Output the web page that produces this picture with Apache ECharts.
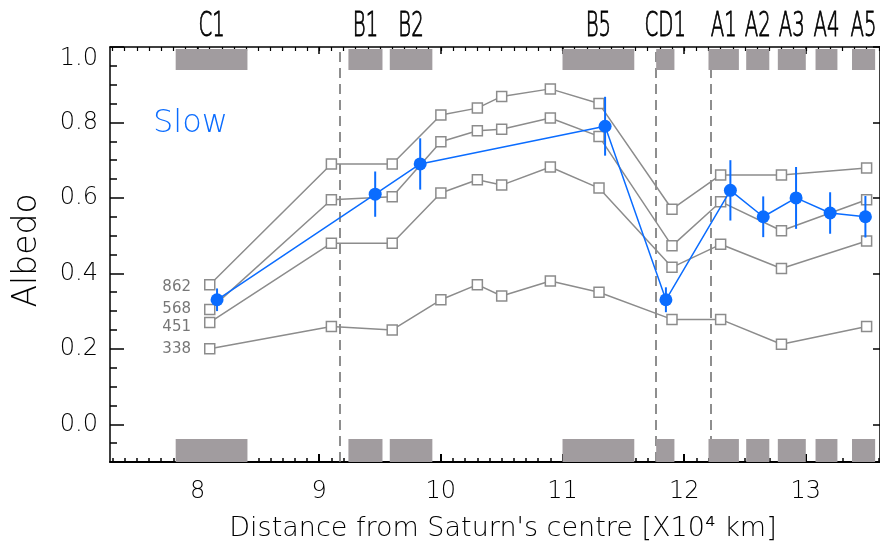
<!DOCTYPE html>
<html>
<head>
<meta charset="utf-8">
<style>
  html, body { margin: 0; padding: 0; background: #fff; }
  #chart { width: 880px; height: 549px; }
</style>
<script src="https://cdn.jsdelivr.net/npm/echarts@6/dist/echarts.min.js"></script>
</head>
<body>
<div id="chart"></div>
<script>
// Ring regions sampled (radial extent in 10^4 km)
const ringNames = ['C1', 'B1', 'B2', 'B5', 'CD1', 'A1', 'A2', 'A3', 'A4', 'A5'];
const ringStart = [7.82, 9.24, 9.58, 11.00, 11.77, 12.20, 12.51, 12.77, 13.08, 13.38];
const ringEnd   = [8.41, 9.52, 9.93, 11.59, 11.92, 12.45, 12.70, 13.00, 13.26, 13.57];

// Ring boundaries (C/B, B/Cassini Division, Cassini Division/A)
const boundaries = [9.17, 11.77, 12.22];

// Filter albedos (wavelength in nm)
const filterDistance = [8.1, 9.1, 9.6, 10.0, 10.3, 10.5, 10.9, 11.3, 11.9, 12.3, 12.8, 13.5];
const albedo862 = [0.370, 0.690, 0.690, 0.820, 0.838, 0.869, 0.889, 0.850, 0.570, 0.661, 0.661, 0.679];
const albedo568 = [0.304, 0.595, 0.603, 0.749, 0.778, 0.782, 0.812, 0.763, 0.473, 0.590, 0.513, 0.595];
const albedo451 = [0.270, 0.480, 0.480, 0.613, 0.648, 0.634, 0.682, 0.626, 0.416, 0.477, 0.413, 0.486];
const albedo338 = [0.200, 0.259, 0.250, 0.330, 0.370, 0.340, 0.380, 0.350, 0.278, 0.278, 0.212, 0.259];
const filterNames = ['862', '568', '451', '338'];

// Slow-mode albedo with uncertainties
const slowDistance = [8.16, 9.46, 9.83, 11.35, 11.85, 12.38, 12.65, 12.92, 13.20, 13.49];
const slowAlbedo   = [0.33, 0.61, 0.69, 0.79, 0.33, 0.62, 0.55, 0.60, 0.56, 0.55];
const slowError    = [0.030, 0.060, 0.068, 0.078, 0.033, 0.080, 0.054, 0.082, 0.055, 0.055];

// Axis ticks and labels
const xTickLabels = [8, 9, 10, 11, 12, 13];
const yTickLabels = [0.0, 0.2, 0.4, 0.6, 0.8, 1.0];
const X_MIN = 7.28, X_MAX = 13.61, Y_MIN = -0.1, Y_MAX = 1.0;

const xMinorTicks = [];
for (let k = 73; k <= 136; k++) xMinorTicks.push(k / 10);
const yMinorTicks = [];
for (let k = -1; k <= 20; k++) yMinorTicks.push(k / 20);

const BLUE = '#0a6cff';
const GREY = '#8c8c8c';
const FONT = 'DejaVu Sans';
const LIGHT = 200;

const labelShift = [2, 0, 5, 0];

function filterSeries(values, idx) {
  const data = filterDistance.map((x, i) => {
    const item = { value: [x, values[i]] };
    if (i === 0) {
      item.label = {
        show: true,
        formatter: filterNames[idx],
        position: 'left',
        distance: 13,
        offset: [0, labelShift[idx]],
        color: '#777',
        fontSize: 15,
        fontFamily: FONT
      };
    }
    return item;
  });
  const s = {
    type: 'line',
    name: filterNames[idx],
    data: data,
    symbol: 'rect',
    symbolSize: 10,
    showAllSymbol: true,
    lineStyle: { color: GREY, width: 1.5 },
    itemStyle: { color: '#fff', borderColor: GREY, borderWidth: 1.5 },
    z: 3,
    animation: false
  };
  if (idx === 0) {
    s.markLine = {
      silent: true,
      symbol: 'none',
      label: { show: false },
      lineStyle: { color: '#6a6a6a', type: [10, 6], width: 1.5 },
      data: boundaries.map(b => ({ xAxis: b })),
      z: 1
    };
  }
  return s;
}

const chart = echarts.init(document.getElementById('chart'), null, { renderer: 'canvas' });

const option = {
  animation: false,
  backgroundColor: '#fff',
  title: {
    text: 'Slow',
    left: 148,
    top: 103,
    textStyle: { color: BLUE, fontSize: 32, fontWeight: LIGHT, fontFamily: FONT }
  },
  grid: { left: 110, right: 0, top: 47, bottom: 87, containLabel: false },
  xAxis: [
    {
      type: 'value', position: 'bottom', min: X_MIN, max: X_MAX,
      name: "Distance from Saturn's centre [X10\u2074 km]",
      nameLocation: 'middle', nameGap: 53,
      nameTextStyle: { fontSize: 27, color: '#000', fontFamily: FONT, fontWeight: LIGHT, padding: [0, 0, 0, 16] },
      axisLine: { show: true, onZero: false, lineStyle: { color: '#000', width: 2 } },
      axisTick: { show: true, inside: true, length: 8, customValues: xTickLabels, lineStyle: { color: '#000', width: 2 } },
      axisLabel: { show: true, customValues: xTickLabels, fontSize: 24, color: '#000', fontFamily: FONT, fontWeight: LIGHT, margin: 18 },
      splitLine: { show: false }
    },
    {
      type: 'value', position: 'bottom', min: X_MIN, max: X_MAX,
      axisLine: { show: false, onZero: false },
      axisTick: { show: true, inside: true, length: 4, customValues: xMinorTicks, lineStyle: { color: '#000', width: 1.5 } },
      axisLabel: { show: false },
      splitLine: { show: false }
    },
    {
      type: 'value', position: 'top', min: X_MIN, max: X_MAX,
      axisLine: { show: true, onZero: false, lineStyle: { color: '#000', width: 1.5 } },
      axisTick: { show: true, inside: true, length: 7, customValues: xTickLabels, lineStyle: { color: '#000', width: 1.5 } },
      axisLabel: { show: false },
      splitLine: { show: false }
    },
    {
      type: 'value', position: 'top', min: X_MIN, max: X_MAX,
      axisLine: { show: false, onZero: false },
      axisTick: { show: true, inside: true, length: 4, customValues: xMinorTicks, lineStyle: { color: '#000', width: 1.2 } },
      axisLabel: { show: false },
      splitLine: { show: false }
    }
  ],
  yAxis: [
    {
      type: 'value', position: 'left', min: Y_MIN, max: Y_MAX,
      name: 'Albedo', nameLocation: 'middle', nameGap: 66,
      nameTextStyle: { fontSize: 33, color: '#000', fontFamily: FONT, fontWeight: LIGHT, padding: [0, 0, 0, 8] },
      axisLine: { show: true, onZero: false, lineStyle: { color: '#000', width: 1.5 } },
      axisTick: { show: true, inside: true, length: 14, customValues: yTickLabels, lineStyle: { color: '#000', width: 1.5 } },
      axisLabel: {
        show: true, customValues: yTickLabels, fontSize: 24, color: '#000', fontFamily: FONT, fontWeight: LIGHT, margin: 12,
        verticalAlignMaxLabel: 'top',
        formatter: v => v.toFixed(1)
      },
      splitLine: { show: false }
    },
    {
      type: 'value', position: 'left', min: Y_MIN, max: Y_MAX,
      axisLine: { show: false, onZero: false },
      axisTick: { show: true, inside: true, length: 7, customValues: yMinorTicks, lineStyle: { color: '#000', width: 1.5 } },
      axisLabel: { show: false },
      splitLine: { show: false }
    },
    {
      type: 'value', position: 'right', min: Y_MIN, max: Y_MAX,
      axisLine: { show: true, onZero: false, lineStyle: { color: '#000', width: 1.5 } },
      axisTick: { show: true, inside: true, length: 7, customValues: yTickLabels, lineStyle: { color: '#000', width: 1.5 } },
      axisLabel: { show: false },
      splitLine: { show: false }
    }
  ],
  series: [
    // ring-region bands along top and bottom of the frame
    {
      type: 'custom',
      clip: false,
      silent: true,
      z: 2,
      data: ringStart.map((s, i) => [s, ringEnd[i]]),
      renderItem: function (params, api) {
        const a = api.coord([api.value(0), Y_MAX]);
        const b = api.coord([api.value(1), Y_MIN]);
        const w = b[0] - a[0];
        const fill = '#a19c9f';
        return {
          type: 'group',
          children: [
            { type: 'rect', shape: { x: a[0], y: a[1] + 2, width: w, height: 21 }, style: { fill: fill } },
            { type: 'rect', shape: { x: a[0], y: b[1] - 23, width: w, height: 23 }, style: { fill: fill } }
          ]
        };
      }
    },
    // ring-region names above the frame (narrow lettering)
    {
      type: 'custom',
      clip: false,
      silent: true,
      z: 5,
      data: ringStart.map((s, i) => [(s + ringEnd[i]) / 2]),
      encode: { x: 0 },
      renderItem: function (params, api) {
        const p = api.coord([api.value(0), Y_MAX]);
        return {
          type: 'text',
          x: p[0],
          y: p[1] - 20,
          scaleX: 0.58,
          style: {
            text: ringNames[params.dataIndex],
            fontSize: 34,
            fontFamily: FONT,
            fontWeight: LIGHT,
            fill: '#000',
            stroke: '#000',
            lineWidth: 0.9,
            align: 'center',
            verticalAlign: 'middle'
          }
        };
      }
    },
    filterSeries(albedo862, 0),
    filterSeries(albedo568, 1),
    filterSeries(albedo451, 2),
    filterSeries(albedo338, 3),
    // slow-mode error bars
    {
      type: 'custom',
      silent: true,
      z: 6,
      data: slowDistance.map((x, i) => [x, slowAlbedo[i] - slowError[i], slowAlbedo[i] + slowError[i]]),
      encode: { x: 0, y: [1, 2] },
      renderItem: function (params, api) {
        const lo = api.coord([api.value(0), api.value(1)]);
        const hi = api.coord([api.value(0), api.value(2)]);
        return {
          type: 'line',
          shape: { x1: lo[0], y1: lo[1], x2: hi[0], y2: hi[1] },
          style: { stroke: BLUE, lineWidth: 2 }
        };
      }
    },
    {
      type: 'line',
      name: 'Slow',
      data: slowDistance.map((x, i) => [x, slowAlbedo[i]]),
      symbol: 'circle',
      symbolSize: 13,
      showAllSymbol: true,
      lineStyle: { color: BLUE, width: 1.5 },
      itemStyle: { color: BLUE },
      z: 7
    }
  ]
};

chart.setOption(option);
</script>
</body>
</html>
